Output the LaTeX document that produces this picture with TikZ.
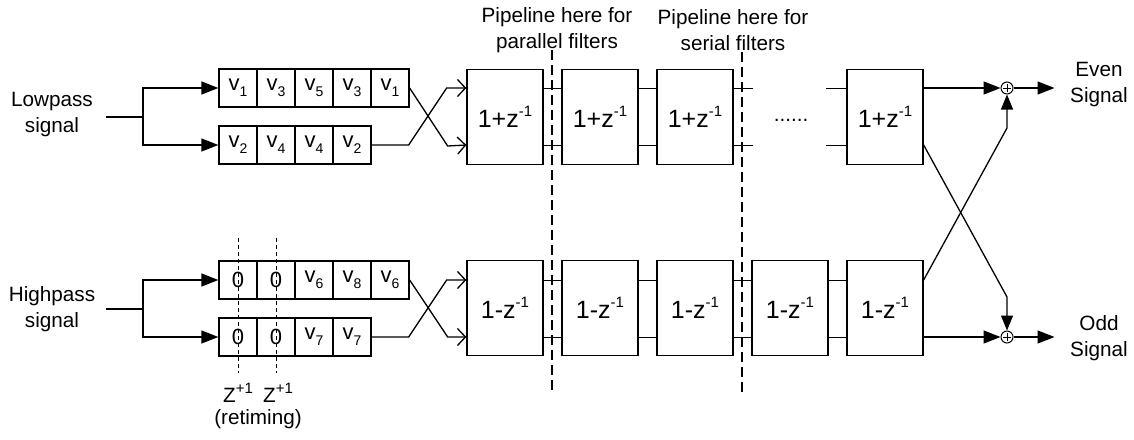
\documentclass[tikz,border=0pt]{standalone}
\usepackage{fontspec}
\setmainfont{Liberation Sans}
\usetikzlibrary{arrows.meta}
\newcommand{\vsub}[1]{v\raisebox{-0.5ex}{\fontsize{14}{14}\selectfont #1}}
\newcommand{\ssup}[1]{\raisebox{0.85ex}{\fontsize{15}{15}\selectfont #1}}
\begin{document}
\begin{tikzpicture}[x=1pt,y=-1pt,
  cell/.style={draw, line width=1.3pt, minimum width=38pt, minimum height=38pt, inner sep=0pt, font=\fontsize{22}{24}\selectfont},
  filt/.style={draw, line width=1.3pt, minimum width=76pt, minimum height=95pt, inner sep=0pt, font=\fontsize{25}{28}\selectfont},
  lbl/.style={font=\fontsize{20.7}{26}\selectfont, align=center, inner sep=0pt},
  wire/.style={line width=1.3pt},
  link/.style={line width=0.9pt},
  fa/.style={-{Triangle[length=17pt,width=13pt]}},
  fb/.style={-{Triangle[length=15pt,width=12pt]}},
  oa/.style={-{Straight Barb[length=8pt,width=17pt]}},
  pipe/.style={dash pattern=on 10pt off 5pt, line width=1.2pt},
  ret/.style={dash pattern=on 4pt off 3pt, line width=1pt},
  adder/.style={circle, draw, line width=1pt, minimum size=12pt, inner sep=0pt},
]
\useasboundingbox (0,0) rectangle (1134,439);

% labels
\node[lbl] (lp) at (52,115) {Lowpass\\signal};
\node[lbl] (hp) at (52,309) {Highpass\\signal};
\node[lbl] (pp) at (557,30) {Pipeline here for\\parallel filters};
\node[lbl] (ps) at (733,30) {Pipeline here for\\serial filters};
\node[lbl] (ev) at (1099,85) {Even\\Signal};
\node[lbl] (od) at (1099,338) {Odd\\Signal};

% lowpass registers
\node[cell] (lu1) at (238,88) {\vsub{1}};
\node[cell] (lu2) at (276,88) {\vsub{3}};
\node[cell] (lu3) at (314,88) {\vsub{5}};
\node[cell] (lu4) at (352,88) {\vsub{3}};
\node[cell] (lu5) at (390,88) {\vsub{1}};
\node[cell] (ll1) at (238,145) {\vsub{2}};
\node[cell] (ll2) at (276,145) {\vsub{4}};
\node[cell] (ll3) at (314,145) {\vsub{4}};
\node[cell] (ll4) at (352,145) {\vsub{2}};

% highpass registers
\node[cell] (hu1) at (238,280) {0};
\node[cell] (hu2) at (276,280) {0};
\node[cell] (hu3) at (314,280) {\vsub{6}};
\node[cell] (hu4) at (352,280) {\vsub{8}};
\node[cell] (hu5) at (390,280) {\vsub{6}};
\node[cell] (hl1) at (238,337) {0};
\node[cell] (hl2) at (276,337) {0};
\node[cell] (hl3) at (314,337) {\vsub{7}};
\node[cell] (hl4) at (352,337) {\vsub{7}};

% filters
\node[filt] (f1t) at (505,117) {1+z\ssup{-1}};
\node[filt] (f2t) at (600,117) {1+z\ssup{-1}};
\node[filt] (f3t) at (695,117) {1+z\ssup{-1}};
\node[lbl, anchor=base] (dots) at (791,121) {......};
\node[filt] (f5t) at (885,117) {1+z\ssup{-1}};
\node[filt] (f1b) at (505,308) {1-z\ssup{-1}};
\node[filt] (f2b) at (600,308) {1-z\ssup{-1}};
\node[filt] (f3b) at (695,308) {1-z\ssup{-1}};
\node[filt] (f4b) at (790,308) {1-z\ssup{-1}};
\node[filt] (f5b) at (885,308) {1-z\ssup{-1}};

% adders
\node[adder] (ae) at (1007,88) {};
\node[adder] (ao) at (1007,337) {};
\foreach \a in {ae,ao}{
  \draw[line width=0.9pt] ([yshift=-4pt]\a.center) -- ([yshift=4pt]\a.center);
  \draw[line width=0.9pt] ([xshift=-4pt]\a.center) -- ([xshift=4pt]\a.center);
}

% inputs
\coordinate (lpj) at (143,117);
\draw[wire] (lp.east |- lpj) ++(13,0) -- (lpj);
\draw[wire,fa] (lpj) |- (lu1.west);
\draw[wire,fa] (lpj) |- (ll1.west);
\coordinate (hpj) at (143,309);
\draw[wire] (hp.east |- hpj) ++(11,0) -- (hpj);
\draw[wire,fa] (hpj) |- (hu1.west);
\draw[wire,fa] (hpj) |- (hl1.west);

% crossings into filters
\draw[wire,oa] (lu5.east) -- ++(38,58) -- (f1t.west |- ll1);
\draw[wire,oa] (ll4.east) -- ++(37,0) -- ++(38,-57) -- (f1t.west |- lu1);
\draw[wire,oa] (hu5.east) -- ++(38,57) -- (f1b.west |- hl1);
\draw[wire,oa] (hl4.east) -- ++(37,0) -- ++(38,-57) -- (f1b.west |- hu1);

% filter links
\foreach \r in {lu1,ll1}{
  \draw[link] (f1t.east |- \r) -- (f2t.west |- \r);
  \draw[link] (f2t.east |- \r) -- (f3t.west |- \r);
  \draw[link] (f3t.east |- \r) -- ++(19,0);
  \draw[link] (f5t.west |- \r) -- ++(-20,0);
}
\foreach \r in {hu1,hl1}{
  \draw[link] (f1b.east |- \r) -- (f2b.west |- \r);
  \draw[link] (f2b.east |- \r) -- (f3b.west |- \r);
  \draw[link] (f3b.east |- \r) -- (f4b.west |- \r);
  \draw[link] (f4b.east |- \r) -- (f5b.west |- \r);
}

% pipeline cuts
\draw[pipe] (552,50) -- (552,393);
\draw[pipe] (742,52) -- (742,393);

% retiming
\draw[ret] (hu1.center |- 0,238) -- (hu1.center |- 0,373);
\draw[ret] (hu2.center |- 0,238) -- (hu2.center |- 0,373);
\node[lbl] (z1) at (238,393) {Z\ssup{+1}};
\node[lbl] (z2) at (278,393) {Z\ssup{+1}};
\node[lbl] (rt) at (258,419) {(retiming)};

% outputs
\draw[wire,fa] (f5t.east |- lu1) -- (ae.west);
\draw[wire,fa] (f5b.east |- hl1) -- (ao.west);
\draw[wire,fa] (ae.east) -- ++(41,0);
\draw[wire,fa] (ao.east) -- ++(41,0);
\draw[wire,fb] (f5t.east |- ll1) -- (ao.north |- 0,297) -- (ao.north);
\draw[wire,fb] (f5b.east |- hu1) -- (ae.south |- 0,128) -- (ae.south);
\end{tikzpicture}
\end{document}
